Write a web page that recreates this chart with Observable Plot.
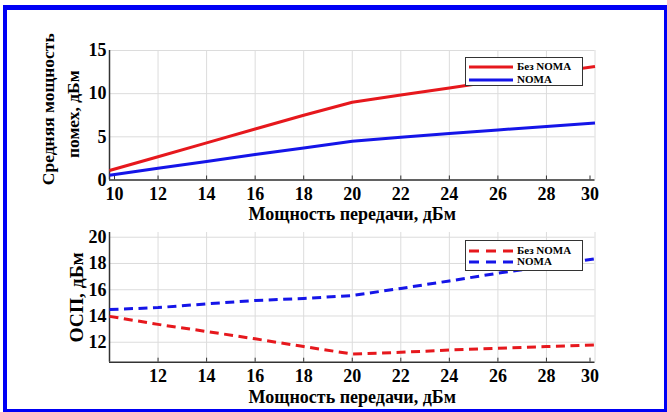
<!DOCTYPE html>
<html>
<head>
<meta charset="utf-8">
<script src="https://cdn.jsdelivr.net/npm/d3@7"></script>
<script src="https://cdn.jsdelivr.net/npm/@observablehq/plot@0.6"></script>
<style>
  html, body { margin: 0; padding: 0; background: #fff; }
  body { width: 667px; height: 412px; position: relative; overflow: hidden;
         font-family: "Liberation Serif", "Times New Roman", serif; font-weight: bold; }
  #frame { position: absolute; left: 3px; top: 5px; width: 657px; height: 399px;
           border-style: solid; border-color: #0000f5; border-width: 5px 3px 3px 4px; }
  .plot { position: absolute; left: 0; }
  .plot svg, .plot svg text { font-family: "Liberation Serif", "Times New Roman", serif !important; }
  .legend { position: absolute; background: #fff; border: 1.5px solid #333; box-sizing: border-box;
            font-size: 11px; color: #000; line-height: 1; }
  .legend .row { position: absolute; left: 3px; display: flex; align-items: center; height: 12px; }
  .legend svg { display: block; margin-right: 4px; }
</style>
</head>
<body>
<div id="frame"></div>
<div id="top" class="plot" style="top:0"></div>
<div id="bot" class="plot" style="top:225px"></div>
<div id="leg1" class="legend" style="left:465px; top:57px; width:118px; height:29px;"></div>
<div id="leg2" class="legend" style="left:465px; top:240px; width:118px; height:31px;"></div>
<script>
// ---------- data ----------
const power = [10, 12, 14, 16, 18, 20, 22, 24, 26, 28, 30];
const interfNoNoma = [1.1, 2.7, 4.3, 5.9, 7.5, 9.0, 9.85, 10.65, 11.5, 12.35, 13.15];
const interfNoma   = [0.55, 1.35, 2.15, 2.95, 3.7, 4.5, 4.95, 5.4, 5.8, 6.2, 6.6];
const osnNoNoma = [13.97, 13.36, 12.82, 12.26, 11.67, 11.1, 11.23, 11.41, 11.54, 11.67, 11.8];
const osnNoma   = [14.49, 14.64, 14.92, 15.18, 15.33, 15.56, 16.1, 16.67, 17.26, 17.8, 18.36];

const seriesNames = ["Без NOMA", "NOMA"];
const seriesColors = ["#e6181d", "#1515e8"];

const xTicksTop = [10, 12, 14, 16, 18, 20, 22, 24, 26, 28, 30];
const xTicksBot = [12, 14, 16, 18, 20, 22, 24, 26, 28, 30];
const yTicksTop = [0, 5, 10, 15];
const yTicksBot = [12, 14, 16, 18, 20];
const xDomain = [10, 30];
const yDomainTop = [0, 15];
const yDomainBot = [10.48, 20.36];

const xTitle = "Мощность передачи, дБм";
const yTitleTop = ["Средняя мощность", "помех, дБм"];
const yTitleBot = "ОСП, дБм";

// ---------- build ----------
const toRows = (vals, s) => power.map((p, i) => ({x: p, y: vals[i], s}));
const topData = [...toRows(interfNoNoma, seriesNames[0]), ...toRows(interfNoma, seriesNames[1])];
const botData = [...toRows(osnNoNoma, seriesNames[0]), ...toRows(osnNoma, seriesNames[1])];

const FONT = '"Liberation Serif", "Times New Roman", serif';
const gridColor = "#dcdcdc";
const axisColor = "#333";

function makePlot({height, marginTop, marginBottom, data, yDomain, yTicks, xTicks, dashed, yTitles, titleDy, yTitleDx, yTitleDy, yTitleSize}) {
  const first = xTicks[0] === xDomain[0] ? [xTicks[0]] : [];
  const last = [xTicks[xTicks.length - 1]];
  const middle = xTicks.filter(t => !first.includes(t) && !last.includes(t));
  const axX = (ticks, dx) => Plot.axisX(ticks, {tickSize: -4, tickPadding: 11, fontSize: 18, fontWeight: "bold",
    label: null, stroke: axisColor, fill: "#000", dx});
  const marks = [
    Plot.gridX(xTicksTop, {stroke: gridColor, strokeOpacity: 1, strokeWidth: 1}),
    Plot.gridY(yTicks, {stroke: gridColor, strokeOpacity: 1, strokeWidth: 1}),
    axX(middle, 0),
    ...(first.length ? [axX(first, 5)] : []),
    axX(last, -5),
    Plot.axisY(yTicks, {tickSize: 0, tickPadding: 3, fontSize: 18, fontWeight: "bold", label: null, fill: "#000"}),
    Plot.ruleX([xDomain[0]], {stroke: axisColor, strokeWidth: 1.5}),
    Plot.ruleY([yDomain[0]], {stroke: axisColor, strokeWidth: 1.5}),
    Plot.line(data, {x: "x", y: "y", z: "s", stroke: d => d.s === seriesNames[0] ? seriesColors[0] : seriesColors[1],
      strokeWidth: 3, strokeDasharray: dashed ? "9,5.5" : null, strokeLinejoin: "round", strokeLinecap: "butt"}),
    Plot.text([xTitle], {text: d => d, frameAnchor: "bottom", dy: titleDy, fontSize: 18, fontWeight: "bold", fill: "#000", lineAnchor: "middle"}),
    ...yTitles.map((t, i) => Plot.text([t], {text: d => d, frameAnchor: "left", rotate: -90, dx: yTitleDx[i], dy: yTitleDy[i],
      fontSize: yTitleSize, fontWeight: "bold", fill: "#000", lineAnchor: "middle", textAnchor: "middle"}))
  ];
  return Plot.plot({
    width: 667, height,
    marginLeft: 109, marginRight: 72.5, marginTop, marginBottom,
    x: {domain: xDomain}, y: {domain: yDomain},
    style: `font-family: ${FONT}; background: transparent; overflow: visible; color: #000;`,
    marks
  });
}

document.getElementById("top").append(makePlot({
  height: 225, marginTop: 50, marginBottom: 45.5, data: topData,
  yDomain: yDomainTop, yTicks: yTicksTop, xTicks: xTicksTop, dashed: false,
  yTitles: yTitleTop, titleDy: 34.5, yTitleDx: [-61, -36], yTitleDy: [-6, -1], yTitleSize: 17.5
}));
document.getElementById("bot").append(makePlot({
  height: 187, marginTop: 7, marginBottom: 50.3, data: botData,
  yDomain: yDomainBot, yTicks: yTicksBot, xTicks: xTicksBot, dashed: true,
  yTitles: [yTitleBot], titleDy: 35, yTitleDx: [-33], yTitleDy: [0], yTitleSize: 19.5
}));

function legend(el, rows, dashed) {
  rows.forEach((r, i) => {
    const row = document.createElement("div");
    row.className = "row";
    row.style.top = r.top + "px";
    row.innerHTML = `<svg width="44" height="6"><line x1="0" x2="44" y1="3" y2="3" stroke="${seriesColors[i]}" stroke-width="3" ${dashed ? 'stroke-dasharray="10,7"' : ''}/></svg><span>${seriesNames[i]}</span>`;
    el.append(row);
  });
}
legend(document.getElementById("leg1"), [{top: 2.5}, {top: 15.5}], false);
legend(document.getElementById("leg2"), [{top: 3.5}, {top: 14.5}], true);
</script>
</body>
</html>
